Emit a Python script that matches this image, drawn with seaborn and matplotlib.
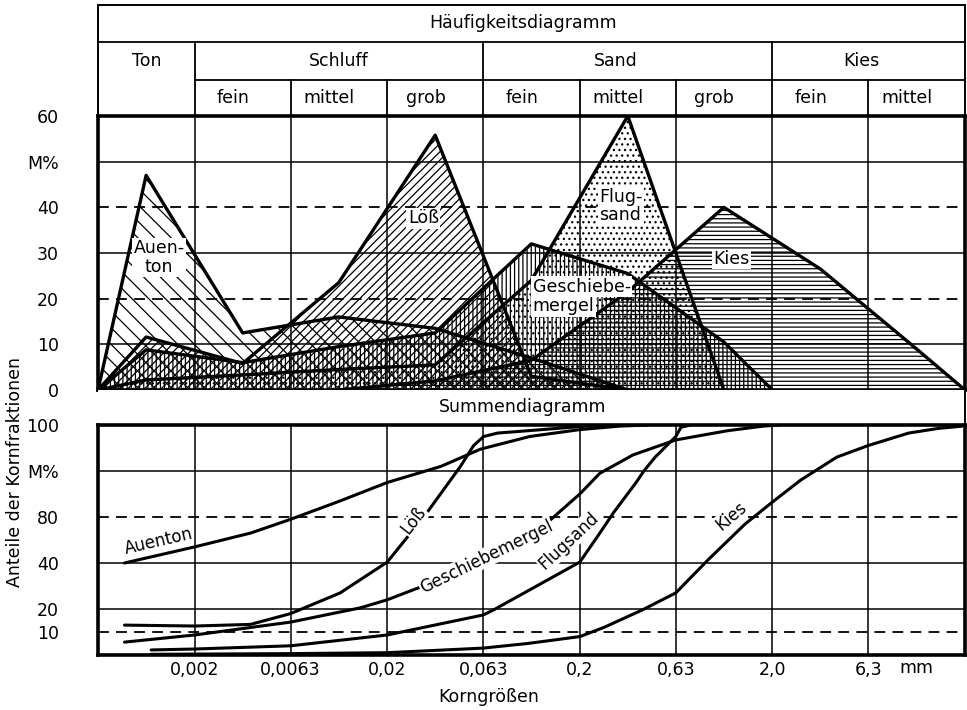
import numpy as np
import pandas as pd
import matplotlib
matplotlib.use("Agg")
import matplotlib.pyplot as plt
import seaborn as sns
from matplotlib.transforms import blended_transform_factory as btf

# ---------------- data ----------------
bounds = [0.00063, 0.002, 0.0063, 0.02, 0.063, 0.2, 0.63, 2.0, 6.3, 20.0]
tick_sizes = [0.002, 0.0063, 0.02, 0.063, 0.2, 0.63, 2.0, 6.3]
tick_labels = ["0,002", "0,0063", "0,02", "0,063", "0,2", "0,63", "2,0", "6,3"]
main_classes = ["Ton", "Schluff", "Sand", "Kies"]
main_spans = [(0.00063, 0.002), (0.002, 0.063), (0.063, 2.0), (2.0, 20.0)]
sub_classes = ["fein", "mittel", "grob", "fein", "mittel", "grob", "fein", "mittel"]
main_bounds = [0.002, 0.063, 2.0]
sub_bounds = [0.0063, 0.02, 0.2, 0.63, 6.3]

# Häufigkeitsdiagramm (M% per fraction)
auenton_x = [0.00063, 0.00112, 0.00355, 0.0112, 0.0355, 0.112, 0.355]
auenton_y = [0, 47, 12.5, 16, 13.5, 7, 0]
loess_x = [0.00063, 0.00112, 0.00355, 0.0112, 0.0355, 0.112, 0.355]
loess_y = [0, 11.6, 5.8, 23.5, 55.8, 3, 0]
gm_x = [0.00063, 0.00112, 0.00355, 0.0112, 0.0355, 0.112, 0.355, 1.12, 2.0]
gm_y = [0, 8.8, 6, 9.5, 12.5, 32, 25.5, 10.5, 0]
flug_x = [0.00063, 0.00112, 0.00355, 0.0112, 0.0355, 0.112, 0.355, 1.12]
flug_y = [0, 2.2, 3.3, 4.5, 5.5, 24, 60, 0]
kies_x = [0.0112, 0.0355, 0.112, 0.355, 1.12, 3.55, 11.2, 20.0]
kies_y = [0, 2, 6.5, 21.5, 40, 26.5, 9, 0]

# Summendiagramm (cumulative M%)
c_auenton_x = [0.000865, 0.002, 0.0039, 0.0063, 0.0114, 0.02, 0.038, 0.061, 0.11, 0.2, 0.32, 0.45]
c_auenton_y = [40, 47, 53, 59, 67, 75, 82, 89.5, 95, 98, 99.5, 100]
c_loess_x = [0.000865, 0.002, 0.0039, 0.0063, 0.0114, 0.02, 0.0316, 0.048, 0.0561, 0.0633, 0.075, 0.107, 0.2, 0.3]
c_loess_y = [13, 12.6, 13.3, 18, 27, 40.4, 61, 82, 91, 95, 96.5, 97.5, 99.3, 100]
c_gm_x = [0.000865, 0.002, 0.0063, 0.0145, 0.02, 0.063, 0.107, 0.2, 0.254, 0.378, 0.63, 1.166, 1.79, 2.2]
c_gm_y = [5.6, 8.7, 14.3, 20.5, 24, 40, 50, 70, 79, 87, 93.5, 97.5, 99.5, 100]
c_flug_x = [0.00119, 0.002, 0.0063, 0.02, 0.063, 0.0713, 0.2, 0.254, 0.30, 0.392, 0.43, 0.492, 0.63, 0.67, 0.75]
c_flug_y = [2.2, 2.6, 4, 8.7, 17.4, 19.6, 40.4, 53, 62, 75, 80, 86, 95, 99, 100]
c_kies_x = [0.00119, 0.0063, 0.02, 0.063, 0.107, 0.2, 0.267, 0.42, 0.63, 0.93, 1.445, 2.0, 2.8, 4.31, 6.25, 10.2, 14.5, 19.3]
c_kies_y = [0.3, 0.6, 1, 3, 5, 8, 12, 19.5, 27, 41.5, 57, 66.5, 76, 86, 91, 96.5, 98.5, 99.5]

top_ticks = [0, 10, 20, 30, 40, 50, 60]
top_ticklabels = ["0", "10", "20", "30", "40", "M%", "60"]
bot_ticks = [10, 20, 40, 60, 80, 100]
bot_ticklabels = ["10", "20", "40", "80", "M%", "100"]

# ---------------- style ----------------
sns.set_theme(style="white")
plt.rcParams["font.family"] = ["DejaVu Sans"]
plt.rcParams["hatch.linewidth"] = 0.9
plt.rcParams["hatch.color"] = "black"
for k in ["text.color", "axes.labelcolor", "xtick.color", "ytick.color", "axes.edgecolor"]:
    plt.rcParams[k] = "black"

W, H = 967, 710
fig = plt.figure(figsize=(W / 100, H / 100), dpi=100)
fig.patch.set_facecolor("white")

def ax_rect(x0, y0, x1, y1):
    return [x0 / W, (H - y1) / H, (x1 - x0) / W, (y1 - y0) / H]

ax_head = fig.add_axes(ax_rect(98, 5, 965, 116))
ax_top = fig.add_axes(ax_rect(98, 116, 965, 390))
ax_mid = fig.add_axes(ax_rect(98, 390, 965, 425))
ax_bot = fig.add_axes(ax_rect(98, 425, 965, 655))

XMIN, XMAX = bounds[0], bounds[-1]
for a in (ax_head, ax_top, ax_mid, ax_bot):
    a.set_xscale("log")
    a.set_xlim(XMIN, XMAX)
    a.set_facecolor("white")
    a.minorticks_off()

FS = 12.5
grid_lw = 1.1
dash = (0, (6, 4))
xc_title = (523 - 98) / (965 - 98)

# ---------------- header ----------------
ax_head.set_ylim(0, 1)
ax_head.set_xticks([]); ax_head.set_yticks([])
for s in ["top", "left", "right"]:
    ax_head.spines[s].set_linewidth(1.4)
    ax_head.spines[s].set_color("black")
ax_head.spines["bottom"].set_visible(False)
y_r1 = (116 - 42) / 111
y_r2 = (116 - 80) / 111
ax_head.axhline(y_r1, color="black", lw=1.3)
ax_head.plot([bounds[1], bounds[-1]], [y_r2, y_r2], color="black", lw=1.3)
for b in main_bounds:
    ax_head.plot([b, b], [0, y_r1], color="black", lw=1.3)
for b in sub_bounds:
    ax_head.plot([b, b], [0, y_r2], color="black", lw=1.3)
ax_head.text(xc_title, (116 - 23) / 111, "Häufigkeitsdiagramm", transform=ax_head.transAxes,
             ha="center", va="center", fontsize=FS)
for name, (lo, hi) in zip(main_classes, main_spans):
    frac = 0.5 if name in ("Ton", "Schluff") else 0.46
    xc = 10 ** (np.log10(lo) + frac * (np.log10(hi) - np.log10(lo)))
    ax_head.text(xc, (116 - 61) / 111, name, ha="center", va="center", fontsize=FS)
for name, lo, hi in zip(sub_classes, bounds[1:-1], bounds[2:]):
    xc = 10 ** (np.log10(lo) + 0.40 * (np.log10(hi) - np.log10(lo)))
    ax_head.text(xc, (116 - 98) / 111, name, ha="center", va="center", fontsize=FS)

# ---------------- upper panel ----------------
ax_top.set_ylim(0, 60)
for y in [10, 30, 50]:
    ax_top.axhline(y, color="black", lw=grid_lw, zorder=1.5)
for y in [20, 40]:
    ax_top.axhline(y, color="black", lw=1.3, ls=dash, zorder=1.5)
for b in bounds[1:-1]:
    ax_top.axvline(b, color="black", lw=grid_lw, zorder=1.5)

freq = [("Auenton", auenton_x, auenton_y, "\\\\"),
        ("Löß", loess_x, loess_y, "////"),
        ("Geschiebemergel", gm_x, gm_y, "||||"),
        ("Flugsand", flug_x, flug_y, "..."),
        ("Kies", kies_x, kies_y, "----")]
for name, xs, ys, hatch in freq:
    ax_top.fill(xs, ys, facecolor="none", edgecolor="black", hatch=hatch, linewidth=0, zorder=1)

freq_df = pd.concat([pd.DataFrame({"size": xs, "value": ys, "soil": name})
                     for name, xs, ys, _ in freq], ignore_index=True)
sns.lineplot(data=freq_df, x="size", y="value", hue="soil",
             palette={n: "black" for n, *_ in freq}, sort=False, estimator=None,
             legend=False, linewidth=2.4, ax=ax_top, zorder=3)
ax_top.set_xscale("log"); ax_top.set_xlim(XMIN, XMAX); ax_top.set_ylim(0, 60)
ax_top.set_xlabel(""); ax_top.set_ylabel("")
ax_top.set_xticks([])
ax_top.set_yticks(top_ticks)
ax_top.set_yticklabels(top_ticklabels, fontsize=FS)
ax_top.tick_params(axis="y", length=0, pad=28)
for s in ax_top.spines.values():
    s.set_linewidth(2.6); s.set_color("black")

bb = dict(facecolor="white", edgecolor="none", pad=1.0)
ax_top.text(0.00131, 29, "Auen-\nton", ha="center", va="center", fontsize=FS,
            linespacing=1.05, bbox=bb, zorder=5)
ax_top.text(0.0308, 37.6, "Löß", ha="center", va="center", fontsize=FS, bbox=bb, zorder=5)
ax_top.text(0.327, 40.3, "Flug-\nsand", ha="center", va="center", fontsize=FS,
            linespacing=1.05, multialignment="left", bbox=bb, zorder=5)
ax_top.text(1.22, 28.7, "Kies", ha="center", va="center", fontsize=FS, bbox=bb, zorder=5)
ax_top.text(0.1138, 22.6, "Geschiebe-", ha="left", va="center", fontsize=FS, bbox=bb, zorder=5)
ax_top.text(0.1138, 18.3, "mergel", ha="left", va="center", fontsize=FS, bbox=bb, zorder=5)

# ---------------- middle label row ----------------
ax_mid.set_xticks([]); ax_mid.set_yticks([])
for s in ["top", "left", "bottom"]:
    ax_mid.spines[s].set_visible(False)
ax_mid.spines["right"].set_linewidth(1.4); ax_mid.spines["right"].set_color("black")
ax_mid.text(xc_title, 0.5, "Summendiagramm", transform=ax_mid.transAxes,
            ha="center", va="center", fontsize=FS)

# ---------------- lower panel ----------------
ax_bot.set_ylim(0, 100)
for y in [20, 40, 80]:
    ax_bot.axhline(y, color="black", lw=grid_lw, zorder=1.5)
for y in [10, 60]:
    ax_bot.axhline(y, color="black", lw=1.3, ls=dash, zorder=1.5)
for b in bounds[1:-1]:
    ax_bot.axvline(b, color="black", lw=grid_lw, zorder=1.5)

cum = [("Auenton", c_auenton_x, c_auenton_y), ("Löß", c_loess_x, c_loess_y),
       ("Geschiebemergel", c_gm_x, c_gm_y), ("Flugsand", c_flug_x, c_flug_y),
       ("Kies", c_kies_x, c_kies_y)]
cum_df = pd.concat([pd.DataFrame({"size": xs, "value": ys, "soil": n}) for n, xs, ys in cum],
                   ignore_index=True)
sns.lineplot(data=cum_df, x="size", y="value", hue="soil",
             palette={n: "black" for n, *_ in cum}, sort=False, estimator=None,
             legend=False, linewidth=2.2, ax=ax_bot, zorder=3)
ax_bot.set_xscale("log"); ax_bot.set_xlim(XMIN, XMAX); ax_bot.set_ylim(0, 100)
ax_bot.minorticks_off()
ax_bot.set_xlabel(""); ax_bot.set_ylabel("")
ax_bot.set_xticks(tick_sizes)
ax_bot.set_xticklabels(tick_labels, fontsize=FS)
ax_bot.set_yticks(bot_ticks)
ax_bot.set_yticklabels(bot_ticklabels, fontsize=FS)
ax_bot.tick_params(axis="both", length=0)
ax_bot.tick_params(axis="y", pad=28)
ax_bot.tick_params(axis="x", pad=4)
for s in ax_bot.spines.values():
    s.set_linewidth(2.6); s.set_color("black")

ax_bot.text(11.2, -13 / 230, "mm", transform=btf(ax_bot.transData, ax_bot.transAxes),
            ha="center", va="center", fontsize=FS)

bb2 = dict(facecolor="white", edgecolor="none", pad=0.6)
ax_bot.text(0.0013, 49.6, "Auenton", rotation=13, ha="center", va="center", fontsize=FS - 0.5, zorder=5)
ax_bot.text(0.0273, 58.5, "Löß", rotation=52, ha="center", va="center", fontsize=FS - 0.5, bbox=bb2, zorder=5)
ax_bot.text(0.0655, 42.6, "Geschiebemergel", rotation=26, ha="center", va="center", fontsize=FS - 0.5, bbox=bb2, zorder=5)
ax_bot.text(0.175, 49.5, "Flugsand", rotation=43, ha="center", va="center", fontsize=FS - 0.5, bbox=bb2, zorder=5)
ax_bot.text(1.23, 60.5, "Kies", rotation=40, ha="center", va="center", fontsize=FS - 0.5, bbox=bb2, zorder=5)

# ---------------- outer labels ----------------
fig.text(15 / W, 1 - 472 / H, "Anteile der Kornfraktionen", rotation=90,
         ha="center", va="center", fontsize=FS)
fig.text(489 / W, 1 - 697 / H, "Korngrößen", ha="center", va="center", fontsize=FS)

fig.savefig("out.png", dpi=100, facecolor="white")
